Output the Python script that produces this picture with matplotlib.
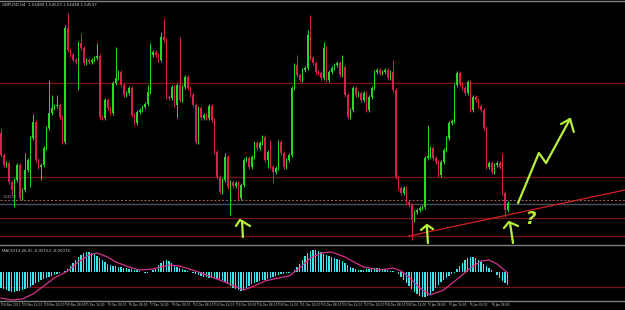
import numpy as np
import matplotlib
matplotlib.use("Agg")
import matplotlib.pyplot as plt
from matplotlib.transforms import blended_transform_factory

# GBPUSD H4 candles, prices as points above 1.5000 (each bar opens at the prior close)
FIRST_OPEN = 544
CLOSE_PTS = [
    500, 480, 484, 446, 430, 450, 480, 414, 430, 470,
    490, 534, 566, 490, 476, 480, 514, 554, 584, 594,
    598, 600, 576, 526, 754, 710, 700, 690, 686, 724,
    714, 684, 690, 686, 690, 694, 698, 576, 574, 610,
    594, 584, 644, 654, 666, 640, 620, 624, 634, 580,
    564, 586, 590, 596, 602, 626, 700, 706, 700, 690,
    736, 730, 616, 614, 636, 600, 640, 610, 636, 656,
    634, 620, 600, 526, 594, 574, 580, 574, 598, 570,
    506, 456, 426, 450, 496, 436, 446, 438, 444, 414,
    440, 490, 494, 476, 496, 524, 514, 524, 536, 490,
    506, 476, 466, 474, 526, 504, 476, 490, 500, 634,
    680, 660, 650, 670, 674, 740, 694, 684, 666, 664,
    654, 714, 650, 666, 674, 680, 684, 660, 676, 620,
    576, 590, 634, 620, 624, 610, 624, 590, 616, 634,
    666, 670, 664, 666, 670, 654, 666, 630, 456, 434,
    424, 434, 406, 400, 370, 386, 390, 394, 396, 494,
    498, 514, 494, 486, 460, 486, 510, 534, 564, 568,
    640, 664, 642, 634, 624, 646, 590, 616, 610, 598,
    590, 554, 476, 484, 466, 480, 484, 476, 424, 390,
    404,
]
# wick lengths beyond the body (points); other bars have a short wick
WICK_SHORT = 4
UP_WICK = {0: 10, 9: 34, 12: 16, 18: 66, 19: 26, 21: 20, 24: 6, 25: 30, 30: 20,
           36: 26, 43: 62, 55: 14, 56: 24, 60: 10, 61: 38, 67: 96, 84: 8,
           101: 24, 111: 20, 115: 10, 116: 40, 121: 12, 128: 24, 147: 24,
           160: 62, 188: 28}
DN_WICK = {4: 10, 5: 34, 11: 54, 15: 26, 29: 56, 66: 26, 86: 56, 100: 16,
           102: 22, 154: 40, 189: 14}

# MACD(12,26,9) main line and signal, in units of 0.0001
MACD_MAIN = [
    -16, -17, -18, -19,
    -20, -20, -19, -19, -18, -17, -16, -15, -13,
    -11, -10, -8, -7, -6, -5, -4, -3,
    -2, -1, 0.5, 1,
    3, 6, 9, 12, 15, 17, 19, 20, 20, 19, 18,
    16, 14, 12, 10, 8,
    7, 6, 6, 5, 5, 4, 4, 3, 3, 2, 2, 1,
    0.5, -1, -1, 0.5,
    2, 4, 7, 9, 11, 12, 11, 9,
    7, 5, 4, 3, 2, 1,
    0.5, -1, -2, -3,
    -4, -5, -5, -6, -6, -6, -7, -7, -8,
    -10, -12, -14, -16, -17, -18, -19,
    -18, -16, -14, -12, -11, -10, -9, -8,
    -8, -7, -6, -5, -4, -3, -2, -2, -1, -1,
    0.5, 2, 5,
    8, 12, 16, 19, 21, 22, 22, 21, 20,
    18, 17, 16, 15, 14, 13, 12, 11,
    9, 7, 5, 4, 3, 2, 2,
    2, 3, 3, 4, 4, 4, 4, 3, 3, 2, 1,
    1, 0.5, -2, -5,
    -8, -11, -14, -17, -20, -22, -24, -25, -25, -24,
    -22, -19, -16, -13, -10, -8, -6, -4, -2, -0.5,
    3, 6, 9, 12, 14, 15, 15, 14, 12,
    10, 8, 6, 4, 2, 0.5,
    -3, -6, -9, -11, -13,
]
SIGNAL_BARS = [0, 4, 8, 12, 16, 20, 25, 29, 33, 36, 40, 43, 48, 52, 57, 63, 67,
               73, 78, 84, 91, 95, 99, 104, 108, 112, 116, 120, 124, 129, 133,
               136, 142, 147, 150, 153, 157, 161, 166, 172, 176, 180, 183, 186, 190]
SIGNAL_VALS = [-26, -28, -27, -22, -14, -6, 1, 10, 17, 19, 15, 10, 5, 2, 3, 7, 6,
               1, -4, -10, -18, -14, -9, -6, -4, 4, 14, 19, 20, 15, 9,
               5, 2, 4, 1, -5, -16, -23, -18, -5, 4, 11, 12, 8, -1]
MACD_LEVEL = -15

DATE_LABELS = ["24 Nov 2011", "25 Nov 16:00", "29 Nov 00:00", "30 Nov 08:00",
               "1 Dec 16:00", "5 Dec 00:00", "6 Dec 08:00", "7 Dec 16:00",
               "9 Dec 00:00", "12 Dec 08:00", "13 Dec 16:00", "15 Dec 00:00",
               "16 Dec 08:00", "19 Dec 16:00", "21 Dec 00:00", "22 Dec 08:00",
               "23 Dec 16:00", "27 Dec 00:00", "28 Dec 08:00", "29 Dec 16:00",
               "2 Jan 08:00", "3 Jan 16:00", "5 Jan 00:00", "6 Jan 08:00"]
LABEL_STEP = 8

LEVELS = [1.5644, 1.5456, 1.5374, 1.5338]
BID_LINE = 1.5410
ASK_LINE = 1.5402
TREND_BARS = [153, 234]
TREND_PRICES = [1.5338, 1.5430]

# hand-drawn marks (bar, price)
ARROWS = [
    ([90.4, 90.7], [1.5368, 1.5336], [88.1, 89.6, 93.4], [1.5358, 1.5370, 1.5358]),
    ([159.7, 160.1], [1.5356, 1.5324], [157.5, 159.7, 162.0], [1.5350, 1.5360, 1.5352]),
    ([190.9, 192.0], [1.5364, 1.5324], [188.6, 190.5, 193.9], [1.5354, 1.5366, 1.5358]),
]
ZIGZAG_BARS = [193.9, 201.7, 204.4, 213.4]
ZIGZAG_PRICES = [1.5404, 1.5504, 1.5484, 1.5572]
ZIGZAG_HEAD_BARS = [210.0, 213.4, 214.8]
ZIGZAG_HEAD_PRICES = [1.5562, 1.5572, 1.5546]

BG = "black"
GREEN = "#22dd22"
RED = "#dc1e48"
LEVEL_RED = "#7a1414"
MARKER = "#b6f03a"
GRID_GRAY = "#7f7f7f"
TXT = "#c8c8c8"

closes = 1.5 + np.array(CLOSE_PTS) / 1e4
opens = np.r_[1.5 + FIRST_OPEN / 1e4, closes[:-1]]
idx = np.arange(len(closes))
up_w = np.array([UP_WICK.get(i, WICK_SHORT) for i in idx]) / 1e4
dn_w = np.array([DN_WICK.get(i, WICK_SHORT) for i in idx]) / 1e4
highs = np.maximum(opens, closes) + up_w
lows = np.minimum(opens, closes) - dn_w
cols = [GREEN if c > o else RED for o, c in zip(opens, closes)]

W, H = 625, 310
fig = plt.figure(figsize=(W / 100, H / 100), dpi=100, facecolor=BG)
ax = fig.add_axes([0, 65 / H, 1, 244 / H], facecolor=BG)
axm = fig.add_axes([0, 9 / H, 1, 54 / H], facecolor=BG)

XLIM = (-0.375, 234.0)
for a in (ax, axm):
    a.set_xlim(*XLIM)
    a.set_xticks([])
    a.set_yticks([])
    for s in ("left", "right"):
        a.spines[s].set_visible(False)
    for s in ("top", "bottom"):
        a.spines[s].set_color(GRID_GRAY)
        a.spines[s].set_linewidth(1.0)
axm.spines["top"].set_visible(False)

ax.set_ylim(1.5320, 1.5808)
for lv in LEVELS:
    ax.axhline(lv, color=LEVEL_RED, lw=0.9, zorder=1)
ax.axhline(BID_LINE, color="#b06060", lw=0.7, ls=(0, (2, 2)), zorder=1)
ax.axhline(ASK_LINE, color="#4a5258", lw=1.0, zorder=1)

ax.vlines(idx, lows, highs, colors=cols, lw=0.7, zorder=2)
ax.bar(idx, closes - opens, bottom=opens, width=0.62, color=cols, lw=0, zorder=3)

ax.plot(TREND_BARS, TREND_PRICES, color="#d42020", lw=0.9, zorder=4)

for sb, sp, hb, hp in ARROWS:
    ax.plot(sb, sp, color=MARKER, lw=1.6, solid_capstyle="round", zorder=5)
    ax.plot(hb, hp, color=MARKER, lw=1.6, solid_capstyle="round",
            solid_joinstyle="round", zorder=5)
ax.plot(ZIGZAG_BARS, ZIGZAG_PRICES, color=MARKER, lw=1.6,
        solid_joinstyle="round", solid_capstyle="round", zorder=5)
ax.plot(ZIGZAG_HEAD_BARS, ZIGZAG_HEAD_PRICES, color=MARKER, lw=1.6,
        solid_joinstyle="round", solid_capstyle="round", zorder=5)
ax.text(198.6, 1.5372, "?", color=MARKER, fontsize=13, fontweight="bold",
        fontstyle="italic", ha="center", va="center", zorder=5)

ax.text(0.003, 0.993, "GBPUSD,H4  1.54480 1.54523 1.54448 1.54537",
        transform=ax.transAxes, color=TXT, fontsize=2.9, va="top", ha="left")
ax.text(0.5, BID_LINE + 0.0002, "1.54100", color="#a0a0a0", fontsize=2.4,
        va="bottom", ha="left")

# MACD panel
axm.set_ylim(-29, 25)
axm.axhline(MACD_LEVEL, color=LEVEL_RED, lw=0.9, zorder=1)
axm.bar(idx, MACD_MAIN, width=0.55, color="#3fe3e6", lw=0, zorder=2)
axm.plot(SIGNAL_BARS, SIGNAL_VALS, color="#d2348e", lw=0.9, zorder=3)
axm.text(0.003, 0.96, "MACD(12,26,9) -0.00152 -0.00076", transform=axm.transAxes,
         color=TXT, fontsize=2.9, va="top", ha="left")

trans = blended_transform_factory(axm.transData, axm.transAxes)
for k, lab in enumerate(DATE_LABELS):
    b = k * LABEL_STEP
    axm.plot([b, b], [-0.01, -0.05], color=GRID_GRAY, lw=0.5, transform=trans,
             clip_on=False)
    axm.text(b + 0.4, -0.075, lab, transform=trans, color=TXT, fontsize=2.1,
             ha="left", va="center", clip_on=False)

fig.savefig("out.png", dpi=100, facecolor=BG)
